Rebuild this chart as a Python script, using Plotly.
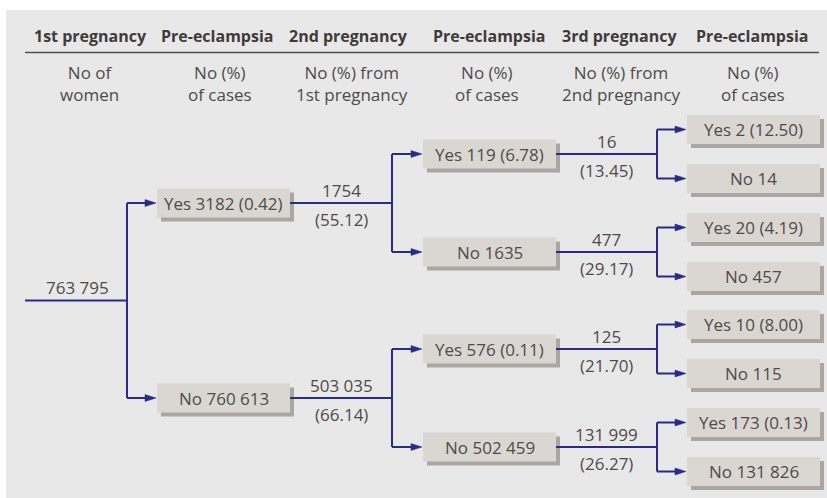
import plotly.graph_objects as go

# ---------------- data ----------------
headers = ["1st pregnancy", "Pre-eclampsia", "2nd pregnancy", "Pre-eclampsia", "3rd pregnancy", "Pre-eclampsia"]
subheaders = ["No of<br>women", "No (%)<br>of cases", "No (%) from<br>1st pregnancy",
              "No (%)<br>of cases", "No (%) from<br>2nd pregnancy", "No (%)<br>of cases"]

root_women = 763795

l1_labels = ["Yes", "No"]
l1_counts = [3182, 760613]
l1_pct = [0.42, None]

l2_flow_counts = [1754, 503035]
l2_flow_pct = [55.12, 66.14]

l2_labels = ["Yes", "No", "Yes", "No"]
l2_counts = [119, 1635, 576, 502459]
l2_pct = [6.78, None, 0.11, None]

l3_flow_counts = [16, 477, 125, 131999]
l3_flow_pct = [13.45, 29.17, 21.70, 26.27]

l3_labels = ["Yes", "No", "Yes", "No", "Yes", "No", "Yes", "No"]
l3_counts = [2, 14, 20, 457, 10, 115, 173, 131826]
l3_pct = [12.50, None, 4.19, None, 8.00, None, 0.13, None]

# ---------------- style / layout ----------------
W, H = 827, 498
PANEL = "#e8e8e8"
BOX = "#dad6d2"
SHADOW = "#aba6a2"
LINE = "#2b2a85"
TXT = "#4f4b4b"
HEAD = "#403b3b"
FONT = "Open Sans"
FS = 17
HFS = 16

head_x = [90, 217, 348, 489, 620, 752]
sub_x = [89, 220, 352, 487, 621, 753]

root_y = 300.5
d1, d2, d3 = 97.5, 49, 24.5
root_x0, split1 = 25, 127
box_w, box_h = 133, 29
box1_x, split2 = 157, 392
box2_x, split3 = 423, 657
box3_x = 687


def fmt(n):
    if n >= 10000:
        return f"{n:,}".replace(",", " ")
    return str(n)


def box_text(lab, c, p):
    s = f"{lab} {fmt(c)}"
    if p is not None:
        s += f" ({p:.2f})"
    return s


shapes = []
annotations = []

# panel
shapes.append(dict(type="rect", x0=6, x1=W, y0=10, y1=H, fillcolor=PANEL, line=dict(width=0), layer="below"))
# header rule
shapes.append(dict(type="line", x0=25, x1=819, y0=52.5, y1=52.5, line=dict(color="#555050", width=1.5)))

for x, t in zip(head_x, headers):
    annotations.append(dict(x=x, y=36, text=f"<b>{t}</b>", showarrow=False,
                            font=dict(family=FONT, size=HFS, color=HEAD), xanchor="center", yanchor="middle"))
for x, t in zip(sub_x, subheaders):
    annotations.append(dict(x=x, y=83, text=t, showarrow=False,
                            font=dict(family=FONT, size=FS, color=TXT), xanchor="center", yanchor="middle"))


def hline(x0, x1, y):
    shapes.append(dict(type="line", x0=x0, x1=x1, y0=y, y1=y, line=dict(color=LINE, width=2)))


def vline(x, y0, y1):
    shapes.append(dict(type="line", x0=x, x1=x, y0=y0, y1=y1, line=dict(color=LINE, width=2)))


def arrow(x0, x1, y):
    tip = x1 - 1
    hline(x0, tip - 8, y)
    shapes.append(dict(type="path", path=f"M {tip-11} {y-3.5} L {tip} {y} L {tip-11} {y+3.5} Z",
                       fillcolor=LINE, line=dict(color=LINE, width=0.5)))


def box(x0, yc, text):
    shapes.append(dict(type="rect", x0=x0 + 4, x1=x0 + box_w + 4, y0=yc - box_h / 2 + 4, y1=yc + box_h / 2 + 4,
                       fillcolor=SHADOW, line=dict(width=0)))
    shapes.append(dict(type="rect", x0=x0, x1=x0 + box_w, y0=yc - box_h / 2, y1=yc + box_h / 2,
                       fillcolor=BOX, line=dict(width=0)))
    annotations.append(dict(x=x0 + box_w / 2, y=yc, text=text, showarrow=False,
                            font=dict(family=FONT, size=FS, color=TXT), xanchor="center", yanchor="middle"))


def flow_label(xc, y, n, p):
    annotations.append(dict(x=xc, y=y - 13, text=fmt(n), showarrow=False,
                            font=dict(family=FONT, size=FS, color=TXT), xanchor="center", yanchor="middle"))
    annotations.append(dict(x=xc, y=y + 16, text=f"({p:.2f})", showarrow=False,
                            font=dict(family=FONT, size=FS, color=TXT), xanchor="center", yanchor="middle"))


# root
hline(root_x0, split1, root_y)
annotations.append(dict(x=77, y=root_y - 13, text=fmt(root_women), showarrow=False,
                        font=dict(family=FONT, size=FS, color=TXT), xanchor="center", yanchor="middle"))
l1_y = [root_y - d1, root_y + d1]
vline(split1, l1_y[0], l1_y[1])
for i, y in enumerate(l1_y):
    arrow(split1, box1_x, y)
    box(box1_x, y, box_text(l1_labels[i], l1_counts[i], l1_pct[i]))

# level 2
l2_y = []
for i, y in enumerate(l1_y):
    hline(box1_x + box_w, split2, y)
    flow_label((box1_x + box_w + split2) / 2, y, l2_flow_counts[i], l2_flow_pct[i])
    ys = [y - d2, y + d2]
    vline(split2, ys[0], ys[1])
    for yy in ys:
        arrow(split2, box2_x, yy)
    l2_y += ys
for j, y in enumerate(l2_y):
    box(box2_x, y, box_text(l2_labels[j], l2_counts[j], l2_pct[j]))

# level 3
l3_y = []
for j, y in enumerate(l2_y):
    hline(box2_x + box_w, split3, y)
    flow_label((box2_x + box_w + split3) / 2, y, l3_flow_counts[j], l3_flow_pct[j])
    ys = [y - d3, y + d3]
    vline(split3, ys[0], ys[1])
    for yy in ys:
        arrow(split3, box3_x, yy)
    l3_y += ys
for k, y in enumerate(l3_y):
    box(box3_x, y, box_text(l3_labels[k], l3_counts[k], l3_pct[k]))

fig = go.Figure()
fig.update_layout(
    width=W, height=H, margin=dict(l=0, r=0, t=0, b=0),
    paper_bgcolor="white", plot_bgcolor="white",
    xaxis=dict(range=[0, W], visible=False, fixedrange=True),
    yaxis=dict(range=[H, 0], visible=False, fixedrange=True),
    shapes=shapes, annotations=annotations, showlegend=False,
)
fig.write_html("out.html", config={"displayModeBar": False},
               post_script="document.body.style.margin='0';document.body.style.overflow='hidden';")
